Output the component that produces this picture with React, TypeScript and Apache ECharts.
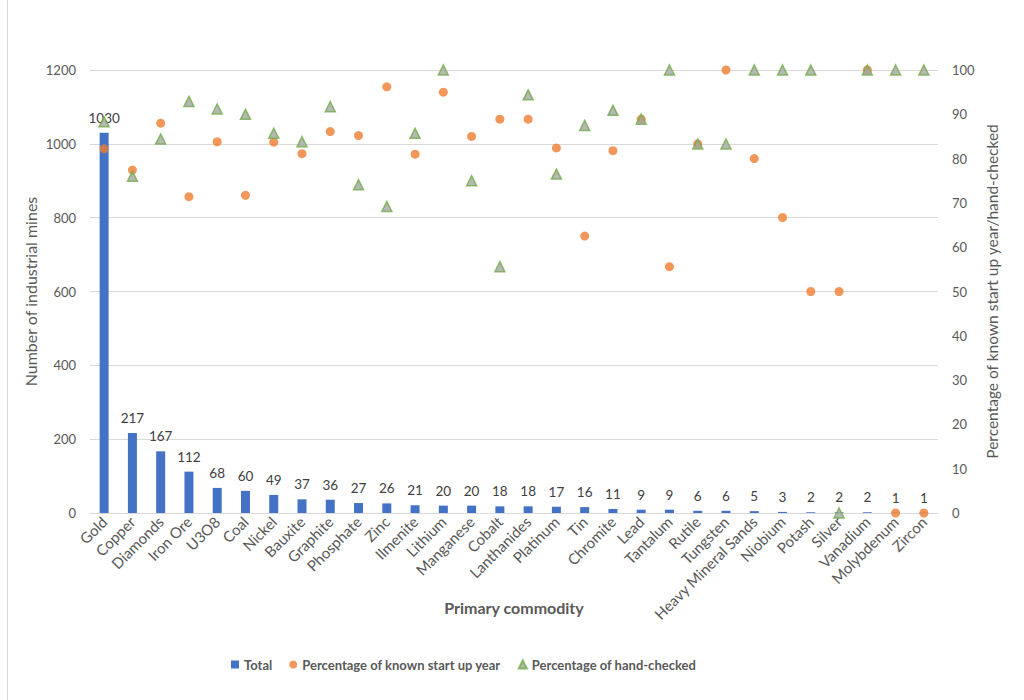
import React, { useEffect, useRef } from "react";
import * as echarts from "echarts";

const categories = [
  "Gold", "Copper", "Diamonds", "Iron Ore", "U3O8", "Coal", "Nickel", "Bauxite", "Graphite", "Phosphate",
  "Zinc", "Ilmenite", "Lithium", "Manganese", "Cobalt", "Lanthanides", "Platinum", "Tin", "Chromite", "Lead",
  "Tantalum", "Rutile", "Tungsten", "Heavy Mineral Sands", "Niobium", "Potash", "Silver", "Vanadium", "Molybdenum", "Zircon",
];
const totals = [1030, 217, 167, 112, 68, 60, 49, 37, 36, 27, 26, 21, 20, 20, 18, 18, 17, 16, 11, 9, 9, 6, 6, 5, 3, 2, 2, 2, 1, 1];
const knownStartUp = [82.2, 77.4, 88.0, 71.4, 83.8, 71.7, 83.7, 81.1, 86.1, 85.2, 96.2, 81.0, 95, 85, 88.9, 88.9, 82.4, 62.5, 81.8, 88.9, 55.6, 83.3, 100, 80, 66.7, 50, 50, 100, 0, 0];
const handChecked = [88.3, 76.0, 84.4, 92.9, 91.2, 90, 85.7, 83.8, 91.7, 74.1, 69.2, 85.7, 100, 75, 55.6, 94.4, 76.5, 87.5, 90.9, 88.9, 100, 83.3, 83.3, 100, 100, 100, 0, 100, 100, 100];
const leftTicks = { min: 0, max: 1200, interval: 200 };
const rightTicks = { min: 0, max: 100, interval: 10 };

const FONT = "Lato, 'Open Sans', sans-serif";
const GREY = "#595959";

export default function App() {
  const ref = useRef<HTMLDivElement>(null);
  useEffect(() => {
    if (!ref.current) return;
    const chart = echarts.init(ref.current, undefined, { renderer: "svg" });
    chart.setOption({
      animation: false,
      backgroundColor: "#ffffff",
      textStyle: { fontFamily: FONT },
      grid: { left: 90, right: 86, top: 70, bottom: 187 },
      graphic: [
        { type: "line", shape: { x1: 7.5, y1: 0, x2: 7.5, y2: 700 }, style: { stroke: "#d9d9d9", lineWidth: 1 } },
      ],
      legend: {
        left: 226,
        top: 653,
        itemGap: 17,
        itemWidth: 8,
        itemHeight: 8,
        textStyle: { fontFamily: FONT, fontSize: 13, fontWeight: "bold", color: GREY },
        data: [
          { name: "Total", icon: "rect" },
          { name: "Percentage of known start up year", icon: "circle" },
          { name: "Percentage of hand-checked", icon: "triangle" },
        ],
      },
      xAxis: {
        type: "category",
        data: categories,
        name: "Primary commodity",
        nameLocation: "middle",
        nameGap: 86,
        nameMoveOverlap: false,
        nameTextStyle: { fontFamily: FONT, fontSize: 16, fontWeight: "bold", color: GREY },
        axisLine: { lineStyle: { color: "#d9d9d9" } },
        axisTick: { show: false },
        axisLabel: { rotate: 45, interval: 0, fontSize: 15, color: GREY, fontFamily: FONT, margin: 6 },
      },
      yAxis: [
        {
          type: "value",
          ...leftTicks,
          name: "Number of industrial mines",
          nameLocation: "middle",
          nameGap: 52,
          nameMoveOverlap: false,
          nameTextStyle: { fontFamily: FONT, fontSize: 16, color: GREY },
          axisLine: { show: false },
          axisTick: { show: false },
          axisLabel: { fontSize: 13, color: GREY, fontFamily: FONT, margin: 14, formatter: (v: number) => String(v) },
          splitLine: { lineStyle: { color: "#d9d9d9", width: 1 } },
        },
        {
          type: "value",
          ...rightTicks,
          name: "Percentage of known start up year/hand-checked",
          nameLocation: "middle",
          nameGap: 46,
          nameMoveOverlap: false,
          nameTextStyle: { fontFamily: FONT, fontSize: 15.5, color: GREY },
          axisLine: { show: false },
          axisTick: { show: false },
          axisLabel: { fontSize: 13, color: GREY, fontFamily: FONT, margin: 14, formatter: (v: number) => String(v) },
          splitLine: { show: false },
        },
      ],
      series: [
        {
          name: "Total",
          type: "bar",
          data: totals,
          barWidth: 9,
          yAxisIndex: 0,
          itemStyle: { color: "#4472C4" },
          label: { show: true, position: "top", distance: 8, fontSize: 13.5, color: "#404040", fontFamily: FONT },
        },
        {
          name: "Percentage of known start up year",
          type: "scatter",
          yAxisIndex: 1,
          data: knownStartUp,
          symbol: "circle",
          symbolSize: 9,
          itemStyle: { color: "#ED7D31" },
          z: 3,
        },
        {
          name: "Percentage of hand-checked",
          type: "scatter",
          yAxisIndex: 1,
          data: handChecked,
          symbol: "triangle",
          symbolSize: 10,
          itemStyle: { color: "#A5A5A5", borderColor: "#70AD47", borderWidth: 1.5 },
          z: 4,
        },
      ],
    });
    return () => chart.dispose();
  }, []);
  return <div ref={ref} style={{ position: "absolute", left: 0, top: 0, width: 1024, height: 700 }} />;
}
